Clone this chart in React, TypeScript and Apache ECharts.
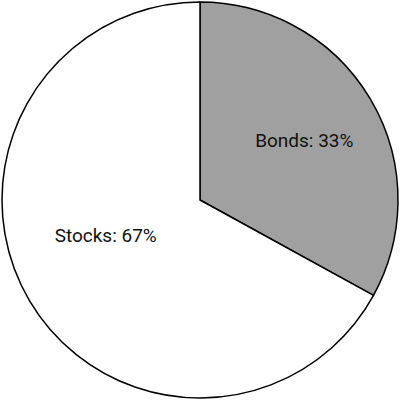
import React, { useEffect, useRef } from "react";
import * as echarts from "echarts";

const categories = ["Bonds", "Stocks"];
const values = [33, 67];
const colors = ["#a0a0a0", "#ffffff"];
const labelPadding = [
  [0, 0, 0, 33],
  [0, 13, 0, 0],
];
const spacerHeights = [15, 33];

export default function App() {
  const ref = useRef<HTMLDivElement>(null);
  useEffect(() => {
    const chart = echarts.init(ref.current!, null, { renderer: "svg" });
    chart.setOption({
      animation: false,
      backgroundColor: "#ffffff",
      series: [
        {
          type: "pie",
          center: [200, 200],
          radius: [0, 198],
          startAngle: 90,
          clockwise: true,
          silent: true,
          label: {
            show: true,
            position: "inside",
            color: "#111111",
            fontFamily: "Roboto",
            fontSize: 19,
            rich: {
              t: { fontFamily: "Roboto", fontSize: 19, color: "#111111", lineHeight: 22 },
              s0: { height: spacerHeights[0], fontSize: 1, lineHeight: spacerHeights[0] },
              s1: { height: spacerHeights[1], fontSize: 1, lineHeight: spacerHeights[1] },
            },
          },
          labelLine: { show: false },
          itemStyle: { borderColor: "#000000", borderWidth: 1.5 },
          data: categories.map((name, i) => ({
            name,
            value: values[i],
            itemStyle: { color: colors[i] },
            label: {
              padding: labelPadding[i],
              formatter: `{t|${name}: ${values[i]}%}\n{s${i}|}`,
            },
          })),
        },
      ],
    });
    return () => chart.dispose();
  }, []);
  return (
    <div
      ref={ref}
      style={{ position: "absolute", left: 0, top: 0, width: 400, height: 400 }}
    />
  );
}
